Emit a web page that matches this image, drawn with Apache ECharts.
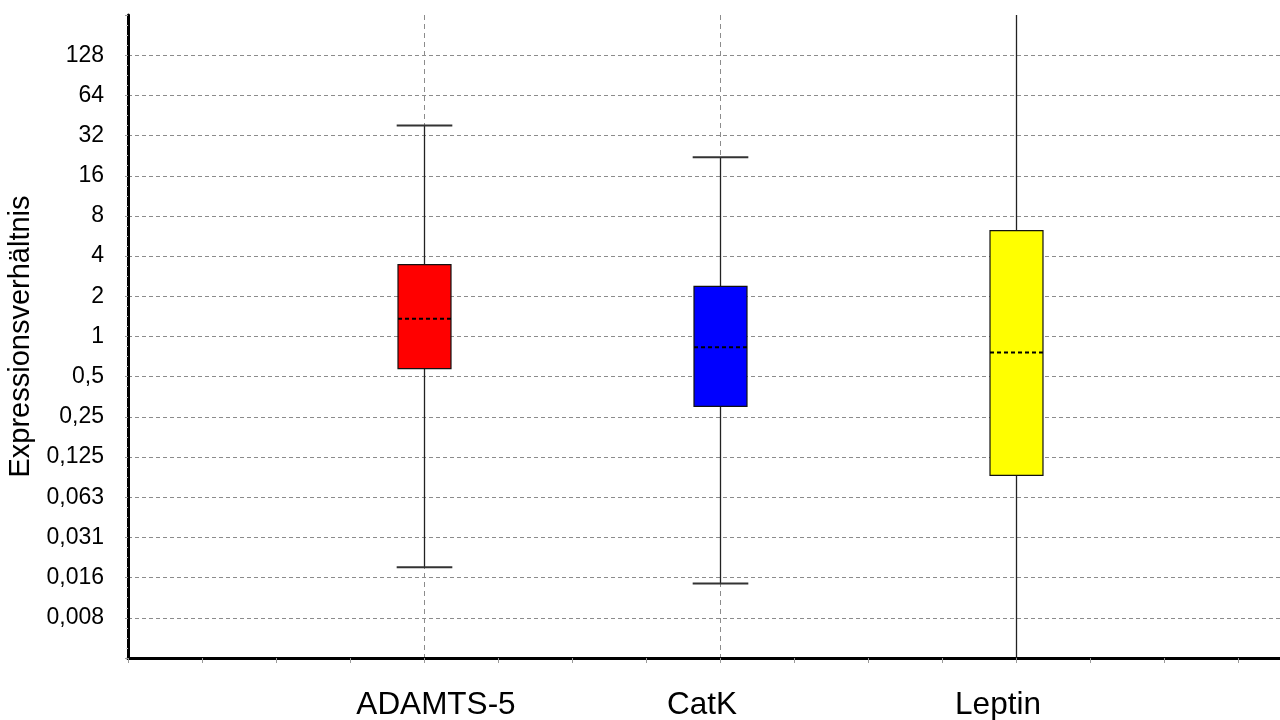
<!DOCTYPE html>
<html>
<head>
<meta charset="utf-8">
<style>html,body{margin:0;padding:0;background:#fff;}#c{width:1280px;height:720px;}</style>
<script src="https://cdn.jsdelivr.net/npm/echarts@6/dist/echarts.min.js"></script>
</head>
<body>
<div id="c"></div>
<script>
// ---- data (expression ratios, log2 axis) ----
var categories = ['ADAMTS-5', 'CatK', 'Leptin'];
var whiskerMax = [38, 22, 400];
var q3 = [3.45, 2.37, 6.2];
var median = [1.36, 0.83, 0.76];
var q1 = [0.575, 0.30, 0.091];
var whiskerMin = [0.0187, 0.0141, 0.0025];
var tickExponents = [-7, -6, -5, -4, -3, -2, -1, 0, 1, 2, 3, 4, 5, 6, 7];
var tickLabels = ['0,008', '0,016', '0,031', '0,063', '0,125', '0,25', '0,5', '1', '2', '4', '8', '16', '32', '64', '128'];
var boxColors = ['#ff0000', '#0000ff', '#ffff00'];
// horizontal nudge (px) of each category label, as placed in the reference
var labelNudge = [12, -18, -18];

var FONT = "'Liberation Sans', Arial, Helvetica, sans-serif";
var l2 = function (v) { return Math.log(v) / Math.LN2; };

var boxData = categories.map(function (c, i) {
  return [i + 1, l2(whiskerMin[i]), l2(q1[i]), l2(median[i]), l2(q3[i]), l2(whiskerMax[i])];
});

var rich = {};
labelNudge.forEach(function (n, i) {
  rich['c' + i] = {
    color: '#000', fontFamily: FONT, fontSize: 31.5,
    padding: n >= 0 ? [0, 0, 0, 2 * n] : [0, -2 * n, 0, 0]
  };
});

function renderBox(params, api) {
  var x = api.value(0);
  var pMin = api.coord([x, api.value(1)]);
  var pQ1 = api.coord([x, api.value(2)]);
  var pMed = api.coord([x, api.value(3)]);
  var pQ3 = api.coord([x, api.value(4)]);
  var pMax = api.coord([x, api.value(5)]);
  var bw = api.size([0.179, 0])[0];
  var cw = api.size([0.188, 0])[0];
  var cx = Math.round(pMed[0]) + 0.5;
  var col = boxColors[params.dataIndex];
  return {
    type: 'group',
    children: [
      { type: 'line', shape: { x1: cx, y1: pQ3[1], x2: cx, y2: pMax[1] }, style: { stroke: '#222', lineWidth: 1.3 } },
      { type: 'line', shape: { x1: cx, y1: pQ1[1], x2: cx, y2: pMin[1] }, style: { stroke: '#222', lineWidth: 1.3 } },
      { type: 'line', shape: { x1: cx - cw / 2, y1: pMax[1], x2: cx + cw / 2, y2: pMax[1] }, style: { stroke: '#333', lineWidth: 2 } },
      { type: 'line', shape: { x1: cx - cw / 2, y1: pMin[1], x2: cx + cw / 2, y2: pMin[1] }, style: { stroke: '#333', lineWidth: 2 } },
      { type: 'rect', shape: { x: cx - bw / 2, y: pQ3[1], width: bw, height: pQ1[1] - pQ3[1] }, style: { fill: col, stroke: '#111', lineWidth: 1.2 } },
      { type: 'line', shape: { x1: cx - bw / 2, y1: pMed[1], x2: cx + bw / 2, y2: pMed[1] }, style: { stroke: '#000', lineWidth: 2, lineDash: [4, 3] } }
    ]
  };
}

var chart = echarts.init(document.getElementById('c'), null, { renderer: 'canvas' });
chart.setOption({
  animation: false,
  backgroundColor: '#fff',
  grid: { left: 128, width: 1184, top: 15, bottom: 62, containLabel: false, outerBoundsMode: 'none' },
  xAxis: [
    {
      type: 'value', min: 0, max: 4, interval: 0.25, position: 'bottom',
      axisLine: { show: true, onZero: false, lineStyle: { color: '#000', width: 3 } },
      axisTick: { show: true, length: 5, lineStyle: { color: '#999', width: 1 } },
      axisLabel: { show: false },
      splitLine: { show: false }
    },
    {
      type: 'value', min: 0, max: 4, interval: 1, position: 'bottom', offset: 0,
      axisLine: { show: false, onZero: false }, axisTick: { show: false },
      axisLabel: {
        show: true, margin: 31, color: '#000', fontFamily: FONT, fontSize: 31.5,
        formatter: function (v) {
          var i = Math.round(v) - 1;
          return categories[i] ? '{c' + i + '|' + categories[i] + '}' : '';
        },
        rich: rich
      },
      splitLine: { show: true, lineStyle: { color: '#8c8c8c', width: 1, type: [5, 4] } }
    }
  ],
  yAxis: {
    type: 'value', min: -8, max: 8, interval: 1,
    name: 'Expressionsverhältnis', nameLocation: 'middle', nameRotate: 90, nameGap: 85,
    nameTextStyle: { color: '#000', fontFamily: FONT, fontSize: 29 },
    axisLine: { show: true, lineStyle: { color: '#000', width: 3 } },
    axisTick: { show: true, length: 3, lineStyle: { color: '#999' } },
    minorTick: { show: true, splitNumber: 4, length: 2, lineStyle: { color: '#c8c8c8' } },
    axisLabel: {
      margin: 24, color: '#000', fontFamily: FONT, fontSize: 23,
      formatter: function (v) {
        var k = tickExponents.indexOf(Math.round(v));
        return k >= 0 ? tickLabels[k] : '';
      }
    },
    splitLine: { show: true, showMinLine: false, showMaxLine: false, lineStyle: { color: '#8c8c8c', width: 1, type: [4, 3] } }
  },
  series: [{
    type: 'custom', xAxisIndex: 0, yAxisIndex: 0, clip: true,
    renderItem: renderBox,
    encode: { x: 0, y: [1, 2, 3, 4, 5] },
    data: boxData,
    z: 5
  }]
});
</script>
</body>
</html>
